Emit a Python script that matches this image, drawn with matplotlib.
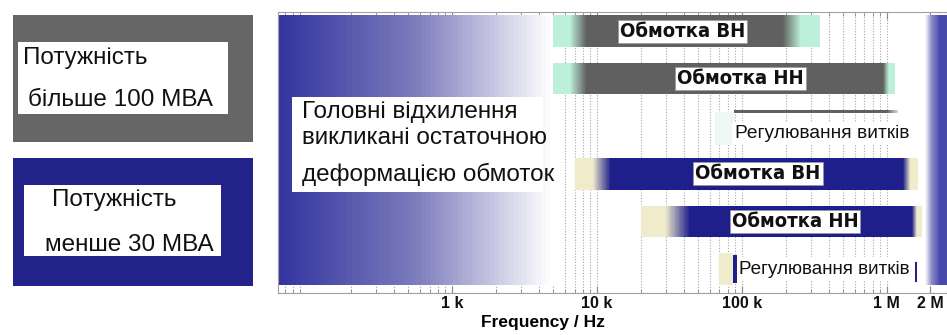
import numpy as np
import matplotlib
matplotlib.use('Agg')
import matplotlib.pyplot as plt
from matplotlib.colors import LinearSegmentedColormap
from matplotlib.patches import Rectangle

# частотна шкала
tick_freqs = [1e3, 1e4, 1e5, 1e6, 2e6]
tick_labels = ['1 k', '10 k', '100 k', '1 M', '2 M']

# смуги обмоток: (початок, суцільна від, суцільна до, кінець), Гц
winding_names = ['Обмотка ВН', 'Обмотка НН', 'Обмотка ВН', 'Обмотка НН']
winding_rows = [0, 1, 3, 4]
winding_start = [5.0e3, 5.0e3, 7.0e3, 2.0e4]
winding_solid0 = [8.5e3, 8.5e3, 1.25e4, 4.4e4]
winding_solid1 = [1.9e5, 9.4e5, 1.29e6, 1.49e6]
winding_end = [3.45e5, 1.13e6, 1.64e6, 1.74e6]
winding_label_f = [3.9e4, 9.8e4, 1.29e5, 2.32e5]
winding_group = ['big', 'big', 'small', 'small']

# регулювання витків
tap_names = ['Регулювання витків', 'Регулювання витків']
tap_start = [6.5e4, 7.0e4]
tap_solid0 = [8.8e4, 8.7e4]
tap_end = [1.2e6, 1.56e6]

# загальні зони
low_zone = [63, 5.1e3]
high_zone = [1.83e6, 2.6e6]

main_text = ['Головні відхилення', 'викликані остаточною', 'деформацією обмоток']
legend_top = ['Потужність', 'більше 100 МВА']
legend_bot = ['Потужність', 'менше 30 МВА']

GRAY = '#606060'
NAVY = '#1f1f8c'
MINT = '#bdf0da'
BEIGE = '#efebcb'
font = 'Liberation Sans'

fig = plt.figure(figsize=(9.47, 3.35), dpi=100)
ax = fig.add_axes([278 / 947, 42 / 335, 669 / 947, 281 / 335])
ax.set_xscale('log')
ax.set_xlim(63, 2.6e6)
ax.set_ylim(5.5, -0.4)


def grad(f0, f1, y0, y1, colors, z=2, n=60):
    xs = np.geomspace(f0, f1, n + 1)
    c = np.linspace(0, 1, n).reshape(1, -1)
    cmap = LinearSegmentedColormap.from_list('g', colors)
    ax.pcolormesh(xs, [y0, y1], c, cmap=cmap, vmin=0, vmax=1, zorder=z,
                  shading='flat', edgecolors='none', rasterized=True)


def block(f0, f1, y0, y1, color, z=2):
    ax.fill_between([f0, f1], y0, y1, color=color, lw=0, zorder=z)


# ліва градієнтна зона та права смуга
grad(low_zone[0], low_zone[1], -0.337, 5.332, ['#3434a0', '#7c7cbc', '#ffffff'])
grad(high_zone[0], 2.3e6, -0.337, 5.332, ['#ffffff', '#8686c4', '#5050b0'])
block(2.3e6, high_zone[1], -0.337, 5.332, '#4848ac')

h = 0.33
for name, r, s, a, b, e, lf, g in zip(winding_names, winding_rows, winding_start,
                                      winding_solid0, winding_solid1, winding_end,
                                      winding_label_f, winding_group):
    core = GRAY if g == 'big' else NAVY
    edge = MINT if g == 'big' else BEIGE
    grad(s, a, r - h, r + h, [edge, edge, core])
    block(a, b, r - h, r + h, core)
    grad(b, e, r - h, r + h, [core, edge, edge])
    ax.text(lf, r, name, ha='center', va='center', fontsize=14.5, fontweight='bold',
            family='DejaVu Sans', fontstretch='condensed', color='#111111', zorder=5,
            bbox=dict(boxstyle='square,pad=0.1', fc='white', ec='#999999', lw=0.5))

# регулювання витків, група > 100 МВА
block(tap_start[0], tap_solid0[0], 1.70, 2.39, '#eef9f4')
ax.fill_between([tap_solid0[0], 1.0e6], 1.66, 1.73, color=GRAY, lw=0, zorder=3)
grad(1.0e6, tap_end[0], 1.66, 1.73, [GRAY, MINT], z=3)
ax.text(9.0e4, 2.16, tap_names[0], ha='left', va='center', fontsize=13.8,
        family=font, color='#111111', zorder=5,
        bbox=dict(boxstyle='square,pad=0.15', fc='white', ec='none'))

# регулювання витків, група < 30 МВА
block(tap_start[1], tap_solid0[1], 4.66, 5.33, BEIGE)
block(tap_solid0[1], 9.2e4, 4.71, 5.28, NAVY, z=6)
ax.text(9.5e4, 5.0, tap_names[1], ha='left', va='center', fontsize=13.6,
        family=font, color='#111111', zorder=5,
        bbox=dict(boxstyle='square,pad=0.2', fc='white', ec='none'))
block(tap_end[1], 1.62e6, 4.85, 5.27, NAVY, z=6)

# пояснювальний текст
block(79, 4.25e3, 1.385, 3.38, 'white', z=3)
for txt, yy in zip(main_text, [1.70, 2.25, 3.02]):
    ax.text(92, yy, txt, ha='left', va='center', fontsize=17.5, family=font,
            color='#111111', zorder=6)

ax.set_xticks(tick_freqs)
ax.set_xticklabels(tick_labels, fontsize=11.5, fontweight='bold', family=font)
ax.set_yticks([])
ax.tick_params(axis='x', which='both', direction='in', top=True, colors='#888888',
               labelcolor='#111111', pad=2.5)
ax.tick_params(axis='x', which='major', length=5)
ax.tick_params(axis='x', which='minor', length=3, labelbottom=False)
ax.grid(True, which='both', axis='x', color='#a8a8a8', ls=(0, (1, 1.5)), lw=0.8)
ax.set_axisbelow(True)
for sp in ax.spines.values():
    sp.set_color('#a0a0a0')
ax.set_xlabel('Frequency / Hz', fontsize=12.5, fontweight='bold', family=font)
ax.xaxis.set_label_coords(0.396, -0.079)


def fig_rect(x0, y0, x1, y1, color):
    fig.add_artist(Rectangle((x0 / 947, 1 - y1 / 335), (x1 - x0) / 947, (y1 - y0) / 335,
                             transform=fig.transFigure, fc=color, ec='none'))


fig_rect(13, 15, 253, 142, '#666666')
fig_rect(18, 42, 228, 114, 'white')
fig.text(23 / 947, 1 - 58 / 335, legend_top[0], fontsize=17.5, family=font, va='center', color='#111111')
fig.text(28 / 947, 1 - 100 / 335, legend_top[1], fontsize=17.5, family=font, va='center', color='#111111')
fig_rect(13, 158, 253, 286, '#222288')
fig_rect(24, 185, 221, 256, 'white')
fig.text(52 / 947, 1 - 200 / 335, legend_bot[0], fontsize=17.5, family=font, va='center', color='#111111')
fig.text(45 / 947, 1 - 245 / 335, legend_bot[1], fontsize=17.5, family=font, va='center', color='#111111')

fig.savefig('out.png', dpi=100)
